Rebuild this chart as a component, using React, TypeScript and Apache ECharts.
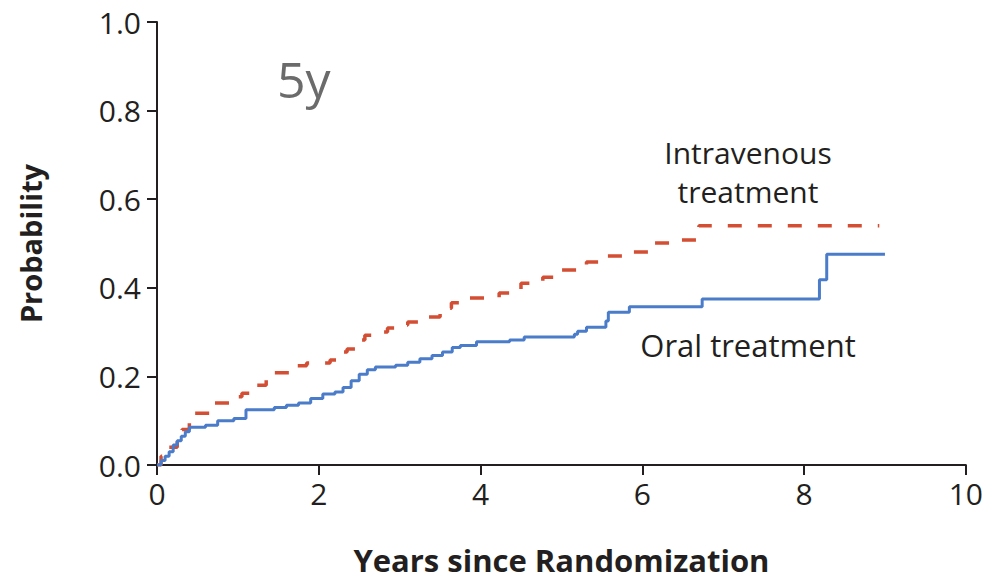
import React, { useEffect, useRef } from "react";
import * as echarts from "echarts";

const xTicks = [0, 2, 4, 6, 8, 10];
const yTicks = [0, 0.2, 0.4, 0.6, 0.8, 1.0];

const oralYears = [0, 0.05, 0.1, 0.15, 0.2, 0.25, 0.3, 0.35, 0.4, 0.6, 0.75, 0.95, 1.1, 1.45, 1.6, 1.75, 1.9, 2.05, 2.2, 2.3, 2.4, 2.5, 2.6, 2.7, 2.95, 3.1, 3.25, 3.4, 3.53, 3.65, 3.75, 3.95, 4.36, 4.54, 5.16, 5.2, 5.31, 5.55, 5.58, 5.84, 6.74, 8.19, 8.28, 9.0];
const oralProb = [0, 0.01, 0.02, 0.03, 0.045, 0.055, 0.065, 0.075, 0.085, 0.09, 0.1, 0.105, 0.125, 0.13, 0.135, 0.14, 0.15, 0.16, 0.165, 0.175, 0.19, 0.205, 0.215, 0.221, 0.225, 0.232, 0.24, 0.247, 0.255, 0.265, 0.27, 0.278, 0.282, 0.289, 0.295, 0.302, 0.311, 0.325, 0.345, 0.357, 0.375, 0.418, 0.476, 0.476];

const ivYears = [0, 0.05, 0.12, 0.25, 0.31, 0.4, 0.47, 0.69, 1.0, 1.05, 1.15, 1.23, 1.35, 1.43, 1.73, 1.85, 2.14, 2.26, 2.35, 2.48, 2.57, 2.73, 2.85, 3.06, 3.1, 3.35, 3.5, 3.56, 3.64, 3.83, 4.23, 4.4, 4.5, 4.77, 4.91, 5.26, 5.31, 5.49, 5.8, 6.11, 6.37, 6.68, 6.7, 8.93];
const ivProb = [0, 0.02, 0.04, 0.06, 0.08, 0.1, 0.117, 0.14, 0.154, 0.162, 0.172, 0.18, 0.195, 0.208, 0.224, 0.23, 0.237, 0.255, 0.262, 0.282, 0.293, 0.3, 0.309, 0.316, 0.323, 0.334, 0.345, 0.354, 0.366, 0.377, 0.388, 0.397, 0.41, 0.424, 0.44, 0.449, 0.458, 0.472, 0.481, 0.501, 0.508, 0.519, 0.54, 0.54];

const FONT = "'Open Sans', 'Noto Sans', sans-serif";
const TXT = "#231f20";

export default function App() {
  const ref = useRef<HTMLDivElement>(null);
  useEffect(() => {
    if (!ref.current) return;
    const chart = echarts.init(ref.current, null, { renderer: "svg" });
    const axisCommon = {
      axisLine: { show: true, lineStyle: { color: TXT, width: 2 } },
      axisTick: { show: true, inside: false, length: 10, lineStyle: { color: TXT, width: 2 } },
      splitLine: { show: false },
    };
    chart.setOption({
      animation: false,
      backgroundColor: "#ffffff",
      grid: { left: 157, right: 19, top: 22, bottom: 116, containLabel: false },
      xAxis: {
        type: "value",
        min: xTicks[0],
        max: xTicks[xTicks.length - 1],
        interval: 2,
        ...axisCommon,
        axisLabel: { color: TXT, fontSize: 30, fontFamily: FONT, margin: 13 },
        name: "Years since Randomization",
        nameLocation: "middle",
        nameGap: 79,
        nameTextStyle: { color: TXT, fontSize: 31, fontWeight: "bold", fontFamily: FONT },
      },
      yAxis: {
        type: "value",
        min: yTicks[0],
        max: yTicks[yTicks.length - 1],
        interval: 0.2,
        ...axisCommon,
        axisLabel: { color: TXT, fontSize: 30, fontFamily: FONT, margin: 16, formatter: (v: number) => v.toFixed(1) },
        name: "Probability",
        nameLocation: "middle",
        nameGap: 112,
        nameTextStyle: { color: TXT, fontSize: 29, fontWeight: "bold", fontFamily: FONT },
      },
      series: [
        {
          name: "Intravenous treatment",
          type: "line",
          step: "end",
          showSymbol: false,
          data: ivYears.map((x, i) => [x, ivProb[i]]),
          lineStyle: { color: "#d44e33", width: 3.5, type: [14, 16] },
          z: 3,
        },
        {
          name: "Oral treatment",
          type: "line",
          step: "end",
          showSymbol: false,
          data: oralYears.map((x, i) => [x, oralProb[i]]),
          lineStyle: { color: "#4a7cca", width: 3 },
          z: 4,
        },
      ],
      graphic: [
        {
          type: "text",
          left: 277,
          top: 54,
          style: { text: "5y", fill: "#6b6b6b", fontSize: 50, fontFamily: FONT },
        },
        {
          type: "text",
          x: 748,
          y: 152,
          style: { text: "Intravenous", fill: TXT, fontSize: 30, lineHeight: 32, fontFamily: FONT, align: "center", verticalAlign: "middle" },
        },
        {
          type: "text",
          x: 748,
          y: 191,
          style: { text: "treatment", fill: TXT, fontSize: 30, lineHeight: 32, fontFamily: FONT, align: "center", verticalAlign: "middle" },
        },
        {
          type: "text",
          x: 748,
          y: 345,
          style: { text: "Oral treatment", fill: TXT, fontSize: 31, fontFamily: FONT, align: "center", verticalAlign: "middle" },
        },
      ],
    });
    return () => chart.dispose();
  }, []);
  return <div ref={ref} style={{ width: 986, height: 581, position: "absolute", left: 0, top: 0 }} />;
}
